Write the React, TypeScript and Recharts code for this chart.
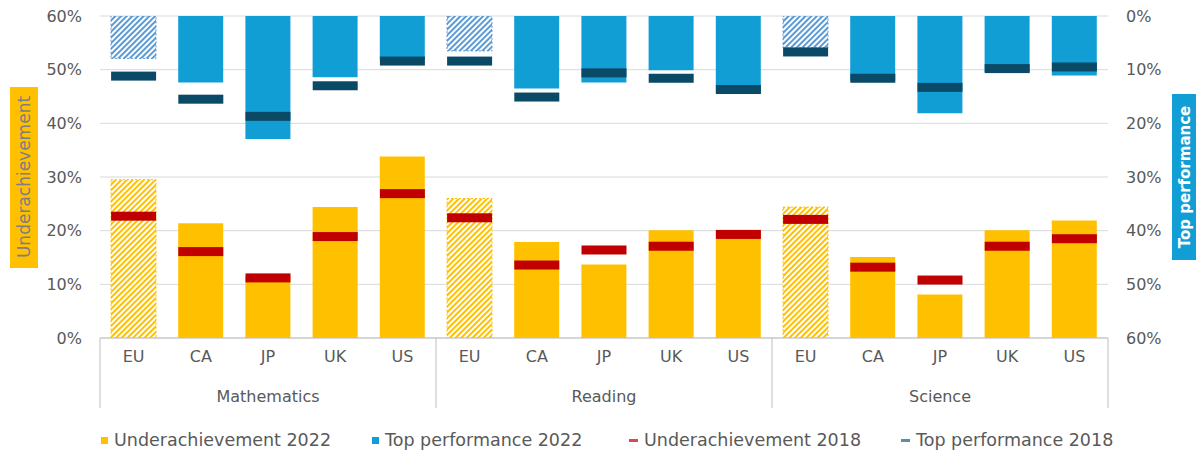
import React from 'react';
import { ComposedChart, Bar, Scatter, XAxis, YAxis, CartesianGrid, Cell, Label } from 'recharts';

const countries = ['EU', 'CA', 'JP', 'UK', 'US'];
const subjects = ['Mathematics', 'Reading', 'Science'];

const under2022 = [29.5, 21.4, 11.5, 24.4, 33.8, 26.0, 17.9, 13.7, 20.1, 20.0, 24.4, 15.1, 8.1, 20.1, 21.9];
const under2018 = [22.7, 16.1, 11.2, 18.9, 26.9, 22.4, 13.6, 16.4, 17.1, 19.3, 22.1, 13.2, 10.8, 17.1, 18.5];
const top2022 = [7.9, 12.4, 22.9, 11.4, 8.0, 6.5, 13.5, 12.4, 10.1, 14.4, 5.9, 12.0, 18.1, 10.5, 11.1];
const top2018 = [11.2, 15.5, 18.7, 13.0, 8.4, 8.4, 15.1, 10.6, 11.6, 13.7, 6.7, 11.6, 13.3, 9.8, 9.5];

const yTicks = [0, 10, 20, 30, 40, 50, 60];

const legendItems = [
  { label: 'Underachievement 2022', color: '#FFC000', kind: 'square', left: 101 },
  { label: 'Top performance 2022', color: '#119ED5', kind: 'square', left: 372 },
  { label: 'Underachievement 2018', color: '#E0474C', kind: 'dash', left: 629 },
  { label: 'Top performance 2018', color: '#5A8FA8', kind: 'dash', left: 901 },
];

const data = subjects.flatMap((s, si) =>
  countries.map((c, ci) => {
    const i = si * countries.length + ci;
    return { key: `${s}-${c}`, subject: s, country: c, u22: under2022[i], u18: under2018[i], t22: top2022[i], t18: top2018[i] };
  })
);

const YELLOW = '#FFC000';
const BLUE = '#119ED5';
const DARK = '#0B4A66';
const RED = '#C00000';
const TEXT = '#595959';
const FONT = 'DejaVu Sans, Verdana, sans-serif';

const makeMarker = (color: string) => (props: any) => {
  const { cx, cy } = props;
  if (cx == null || cy == null) return null;
  return <rect x={cx - 22.5} y={cy - 4.5} width={45} height={9} fill={color} />;
};

const SubjectTick = (props: any) => {
  const { x, y, payload, index } = props;
  const half = payload && payload.offset ? payload.offset : 33.6;
  const [subject] = String(payload.value).split('-');
  const pos = index % countries.length;
  const els: any[] = [];
  if (pos === 0) {
    els.push(<line key="l" x1={x - half} x2={x - half} y1={y - 40} y2={y + 30} stroke="#BFBFBF" strokeWidth={1} />);
  }
  if (index === data.length - 1) {
    els.push(<line key="r" x1={x + half} x2={x + half} y1={y - 40} y2={y + 30} stroke="#BFBFBF" strokeWidth={1} />);
  }
  if (pos === 2) {
    els.push(
      <text key="t" x={x} y={y + 18} textAnchor="middle" dominantBaseline="central" fill={TEXT} fontSize={16} fontFamily={FONT}>
        {subject}
      </text>
    );
  }
  return <g>{els}</g>;
};

const LeftLabel = (props: any) => {
  const vb = props.viewBox || { x: 0, y: 16, width: 100, height: 322 };
  const cy = vb.y + vb.height / 2;
  return (
    <g>
      <rect x={10} y={cy - 90} width={28} height={181} fill={YELLOW} />
      <text x={24} y={cy} transform={`rotate(-90 24 ${cy})`} textAnchor="middle" dominantBaseline="central" fill="#7F7F7F" fontSize={17} fontFamily={FONT}>
        Underachievement
      </text>
    </g>
  );
};

const RightLabel = (props: any) => {
  const vb = props.viewBox || { x: 1108, y: 16, width: 88, height: 322 };
  const cy = vb.y + vb.height / 2;
  return (
    <g>
      <rect x={1172} y={cy - 83} width={28} height={166} fill={BLUE} />
      <text x={1185} y={cy} transform={`rotate(-90 1185 ${cy})`} textAnchor="middle" dominantBaseline="central" fill="#FFFFFF" fontSize={15} fontWeight="bold" fontFamily={FONT}>
        Top performance
      </text>
    </g>
  );
};

export default function App() {
  return (
    <div style={{ position: 'absolute', left: 0, top: 0, width: 1196, height: 450, background: '#fff', fontFamily: FONT }}>
      <svg width={0} height={0} style={{ position: 'absolute' }}>
        <defs>
          <pattern id="hatchY" patternUnits="userSpaceOnUse" width={4} height={4} patternTransform="rotate(45)">
            <rect width={4} height={4} fill="#FFFFFF" />
            <rect width={2} height={4} fill={YELLOW} />
          </pattern>
          <pattern id="hatchB" patternUnits="userSpaceOnUse" width={4} height={4} patternTransform="rotate(45)">
            <rect width={4} height={4} fill="#FFFFFF" />
            <rect width={2} height={4} fill="#5B9BD5" />
          </pattern>
        </defs>
      </svg>
      <ComposedChart width={1196} height={450} data={data} margin={{ top: 16, right: 0, bottom: 42, left: 0 }}>
        <CartesianGrid yAxisId="left" xAxisId="xa" vertical={false} stroke="#D9D9D9" />
        <XAxis
          xAxisId="xa"
          dataKey="key"
          height={40}
          interval={0}
          tickLine={false}
          tickMargin={7}
          axisLine={{ stroke: '#BFBFBF' }}
          tickFormatter={(v: string) => String(v).split('-')[1]}
          tick={{ fill: TEXT, fontSize: 16, fontFamily: FONT }}
        />
        <XAxis
          xAxisId="xb"
          dataKey="key"
          height={30}
          interval={0}
          tickLine={false}
          axisLine={false}
          tickSize={0}
          tickMargin={0}
          tick={<SubjectTick />}
        />
        <XAxis xAxisId="xz" dataKey="key" hide />
        <YAxis
          yAxisId="left"
          domain={[0, 60]}
          ticks={yTicks}
          allowDataOverflow
          width={100}
          axisLine={false}
          tickLine={false}
          tickMargin={12}
          tickFormatter={(v: number) => `${v}%`}
          tick={{ fill: TEXT, fontSize: 16, fontFamily: FONT }}
        >
          <Label content={<LeftLabel />} />
        </YAxis>
        <YAxis
          yAxisId="right"
          orientation="right"
          reversed
          domain={[0, 60]}
          ticks={yTicks}
          allowDataOverflow
          width={88}
          axisLine={false}
          tickLine={false}
          tickMargin={12}
          tickFormatter={(v: number) => `${v}%`}
          tick={{ fill: TEXT, fontSize: 16, fontFamily: FONT }}
        >
          <Label content={<RightLabel />} />
        </YAxis>
        <Bar xAxisId="xa" yAxisId="left" dataKey="u22" name="Underachievement 2022" barSize={45} isAnimationActive={false}>
          {data.map((d, i) => (
            <Cell
              key={`u-${i}`}
              fill={d.country === 'EU' ? 'url(#hatchY)' : YELLOW}
              stroke={d.country === 'EU' ? YELLOW : 'none'}
              strokeDasharray={d.country === 'EU' ? '2 2' : undefined}
            />
          ))}
        </Bar>
        <Bar xAxisId="xz" yAxisId="right" dataKey="t22" name="Top performance 2022" barSize={45} isAnimationActive={false}>
          {data.map((d, i) => (
            <Cell
              key={`t-${i}`}
              fill={d.country === 'EU' ? 'url(#hatchB)' : BLUE}
              stroke={d.country === 'EU' ? '#5B9BD5' : 'none'}
              strokeDasharray={d.country === 'EU' ? '2 2' : undefined}
            />
          ))}
        </Bar>
        <Scatter xAxisId="xa" yAxisId="left" dataKey="u18" name="Underachievement 2018" shape={makeMarker(RED)} isAnimationActive={false} />
        <Scatter xAxisId="xz" yAxisId="right" dataKey="t18" name="Top performance 2018" shape={makeMarker(DARK)} isAnimationActive={false} />
      </ComposedChart>
      {legendItems.map((it) => (
        <div key={it.label} style={{ position: 'absolute', left: it.left, top: 429, height: 22, display: 'flex', alignItems: 'center', color: TEXT, fontSize: 17.5, fontFamily: FONT, whiteSpace: 'nowrap' }}>
          <span style={{ display: 'inline-block', width: it.kind === 'square' ? 7 : 9, height: it.kind === 'square' ? 7 : 3, background: it.color, marginRight: it.kind === 'square' ? 6 : 6 }} />
          <span>{it.label}</span>
        </div>
      ))}
    </div>
  );
}
